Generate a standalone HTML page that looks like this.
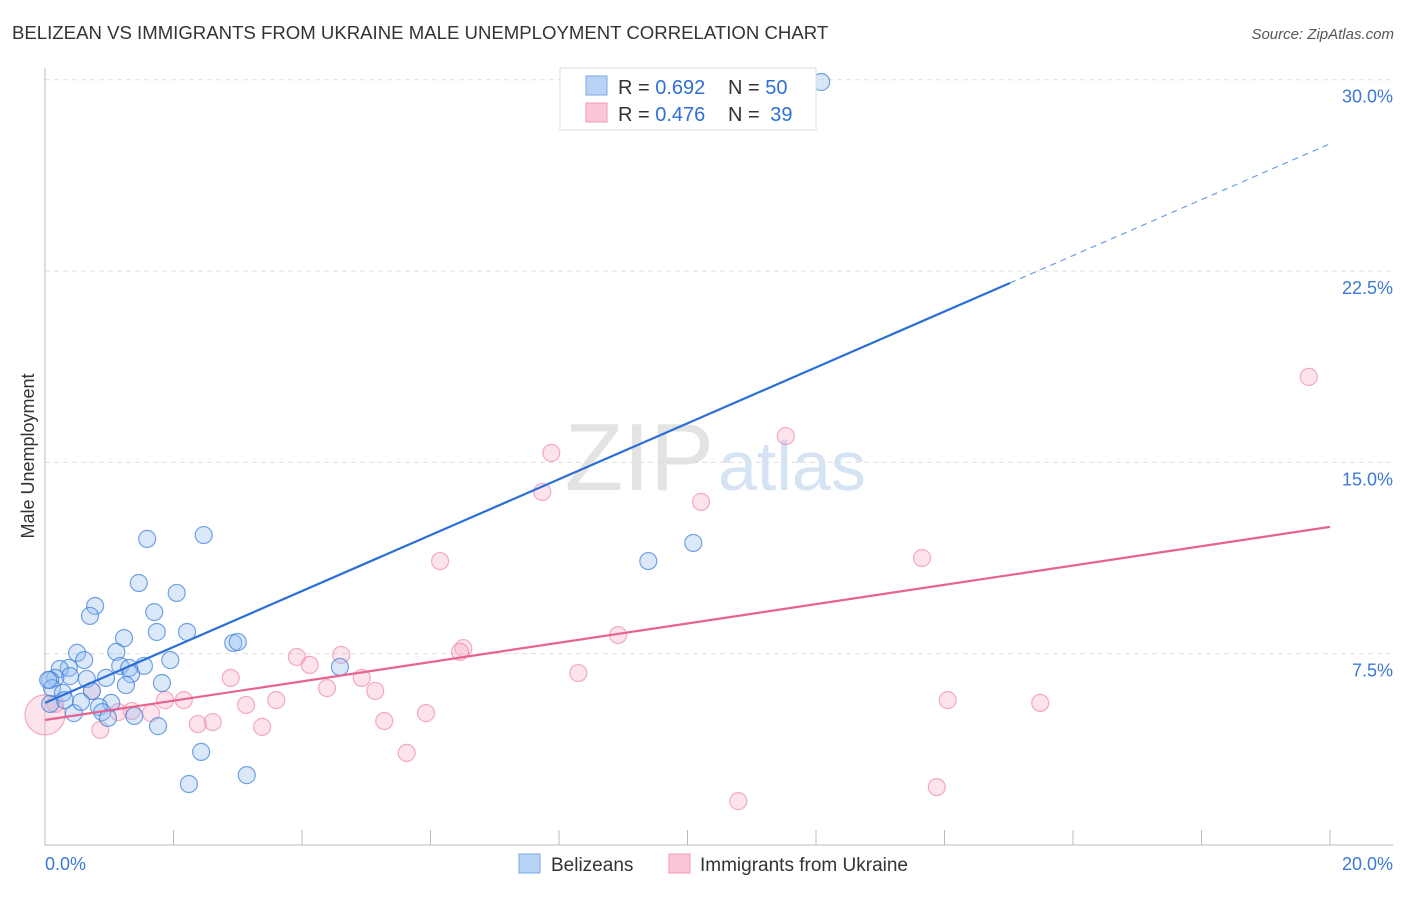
<!DOCTYPE html>
<html><head><meta charset="utf-8"><style>
body{margin:0;background:#fff;font-family:"Liberation Sans",sans-serif}
svg text{font-family:"Liberation Sans",sans-serif}
</style></head><body>
<svg id="chart" width="1406" height="892">
<text x="12" y="39" font-size="18.6" fill="#333">BELIZEAN VS IMMIGRANTS FROM UKRAINE MALE UNEMPLOYMENT CORRELATION CHART</text>
<text x="1394" y="39" font-size="15" fill="#555" font-style="italic" text-anchor="end">Source: ZipAtlas.com</text>
<text x="34" y="456" font-size="18" fill="#333" transform="rotate(-90 34 456)" text-anchor="middle">Male Unemployment</text>
<text x="714" y="490" font-size="96" fill="#e3e3e3" font-family="Liberation Serif" text-anchor="end">ZIP</text>
<text x="718" y="490" font-size="70" fill="#d5e3f3">atlas</text>
<g id="grid"></g><g id="pts"></g><g id="lines"></g>
<g>
<rect x="560" y="68" width="256" height="62" fill="#fff" stroke="#ddd"/>
<rect x="586" y="76" width="21" height="19" fill="#b9d3f5" stroke="#7aaae8"/>
<rect x="586" y="103" width="21" height="19" fill="#fbc6d6" stroke="#f09ab4"/>
<text x="618" y="94" font-size="20" fill="#333">R = <tspan fill="#2f6fd6">0.692</tspan></text>
<text x="728" y="94" font-size="20" fill="#333">N = <tspan fill="#2f6fd6">50</tspan></text>
<text x="618" y="121" font-size="20" fill="#333">R = <tspan fill="#2f6fd6">0.476</tspan></text>
<text x="728" y="121" font-size="20" fill="#333">N = <tspan fill="#2f6fd6" dx="5">39</tspan></text>
</g>
<g>
<rect x="519" y="854" width="21" height="19" fill="#b9d3f5" stroke="#7aaae8"/>
<text x="551" y="871" font-size="19" fill="#333">Belizeans</text>
<rect x="669" y="854" width="21" height="19" fill="#fbc6d6" stroke="#f09ab4"/>
<text x="700" y="871" font-size="19" fill="#333">Immigrants from Ukraine</text>
</g>
</svg>
<script>
const yTicks=[7.5,15,22.5,30];
const yTickLabels=["7.5%","15.0%","22.5%","30.0%"];
const xTickLabels=["0.0%","20.0%"];
const blueX=[12.08,2.47,1.59,1.46,0.78,0.70,2.05,1.70,1.74,2.21,1.23,2.93,3.00,0.50,0.61,1.11,1.95,1.54,1.17,1.31,1.34,0.95,0.65,0.37,0.23,0.39,0.16,0.08,0.11,0.28,0.73,1.26,1.82,4.59,9.39,10.09,1.03,0.84,0.45,0.89,0.98,1.39,1.76,2.43,2.24,3.14,0.08,0.31,0.05,0.56];
const blueY=[29.91,12.15,12.0,10.27,9.37,8.98,9.88,9.13,8.35,8.35,8.11,7.92,7.96,7.53,7.25,7.57,7.25,7.02,7.02,6.94,6.70,6.55,6.51,6.94,6.90,6.62,6.55,6.47,6.15,5.96,6.04,6.27,6.35,6.98,11.13,11.84,5.57,5.41,5.17,5.21,4.98,5.06,4.66,3.65,2.39,2.74,5.53,5.68,6.47,5.61];
const pinkX=[19.67,11.53,7.88,7.74,10.21,13.65,6.15,8.92,6.51,6.46,3.92,4.61,4.12,8.30,2.89,4.93,4.39,5.14,0.73,0.16,2.16,1.87,3.60,3.13,14.05,15.49,1.35,1.65,1.14,5.93,5.28,2.61,2.38,3.38,0.86,5.63,13.88,10.79,0];
const pinkY=[18.35,16.03,15.37,13.84,13.45,11.25,11.13,8.23,7.72,7.57,7.37,7.45,7.06,6.74,6.55,6.55,6.15,6.04,6.04,5.53,5.68,5.68,5.68,5.49,5.68,5.57,5.25,5.17,5.21,5.17,4.86,4.82,4.74,4.63,4.51,3.61,2.27,1.72,5.10];
const blueTrend=[5.57,1.096];
const pinkTrend=[4.90,0.3785];
const NS='http://www.w3.org/2000/svg';
const X=v=>45+v*64.25, Y=v=>845-v*25.51;
function mk(t,a,p){const e=document.createElementNS(NS,t);for(const k in a)e.setAttribute(k,a[k]);p.appendChild(e);return e;}
const grid=document.getElementById('grid'),pts=document.getElementById('pts'),lines=document.getElementById('lines');
yTicks.forEach((t,i)=>{
 const l=mk('line',{x1:45,x2:1393,y1:Y(t),y2:Y(t),stroke:'#ddd','stroke-dasharray':'5,4'},grid);
 
 
 const tx=mk('text',{x:1393,y:Y(t)+23,'font-size':18,fill:'#3b78d8','text-anchor':'end'},grid);tx.textContent=yTickLabels[i];
 
 
});
const ax=mk('path',{d:'M45 68V845H1393',fill:'none',stroke:'#bbb'},grid);


for(let i=1;i<=10;i++){const t=mk('line',{x1:X(i*2),x2:X(i*2),y1:830,y2:845,stroke:'#bbb'},grid);
 
 }
[[0,'start',45],[20,'end',1393]].forEach((d,i)=>{const t=mk('text',{x:d[2],y:870,'font-size':18,fill:'#3b78d8','text-anchor':d[1]},grid);t.textContent=xTickLabels[i];
 
 });
pinkX.forEach((x,i)=>{const c=mk('circle',{cx:X(x),cy:Y(pinkY[i]),r:i==pinkX.length-1?20:8.5,fill:'rgba(248,170,195,0.33)',stroke:'rgba(236,130,165,0.65)','stroke-width':1.2},pts);
 
 });
blueX.forEach((x,i)=>{const c=mk('circle',{cx:X(x),cy:Y(blueY[i]),r:8.5,fill:'rgba(150,190,240,0.35)',stroke:'rgba(60,125,215,0.7)','stroke-width':1.2},pts);
 
 });
const f=(t,x)=>t[0]+t[1]*x;
const b1=mk('line',{x1:X(0),y1:Y(f(blueTrend,0)),x2:X(15.02),y2:Y(f(blueTrend,15.02)),stroke:'#2a6fd6','stroke-width':2.2},lines);


const b2=mk('line',{x1:X(15.02),y1:Y(f(blueTrend,15.02)),x2:X(20),y2:Y(f(blueTrend,20)),stroke:'#6a9ee6','stroke-width':1.2,'stroke-dasharray':'6,5'},lines);


const p1=mk('line',{x1:X(0),y1:Y(f(pinkTrend,0)),x2:X(20),y2:Y(f(pinkTrend,20)),stroke:'#e8628f','stroke-width':2.2},lines);


</script>
</body></html>
